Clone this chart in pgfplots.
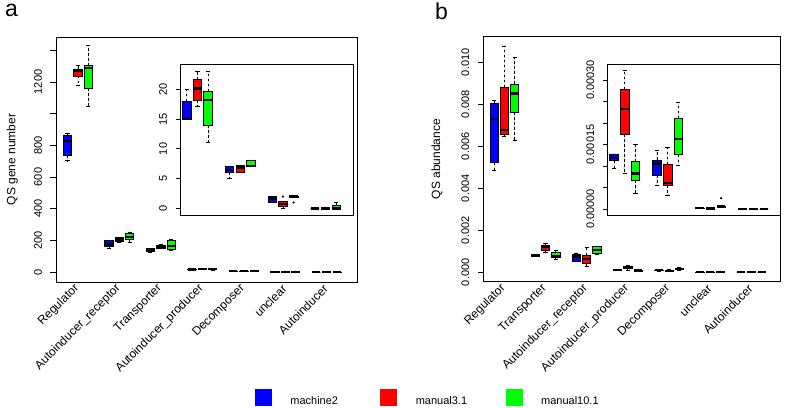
\documentclass[border=0pt]{standalone}
\usepackage{fontspec}
\setmainfont{Liberation Sans}
\usepackage{pgfplots}
\pgfplotsset{compat=1.18}
\usepgfplotslibrary{statistics}
\pgfplotsset{
  /pgfplots/boxplot/draw/lower whisker/.code={%
    \draw[black, line width=0.7bp, dash pattern=on 2.5bp off 2.5bp]
      (boxplot box cs:\pgfplotsboxplotvalue{lower quartile},0.5) --
      (boxplot box cs:\pgfplotsboxplotvalue{lower whisker},0.5);
    \draw[black, line width=0.7bp]
      (boxplot box cs:\pgfplotsboxplotvalue{lower whisker},0.25) --
      (boxplot box cs:\pgfplotsboxplotvalue{lower whisker},0.75);
  },
  /pgfplots/boxplot/draw/upper whisker/.code={%
    \draw[black, line width=0.7bp, dash pattern=on 2.5bp off 2.5bp]
      (boxplot box cs:\pgfplotsboxplotvalue{upper quartile},0.5) --
      (boxplot box cs:\pgfplotsboxplotvalue{upper whisker},0.5);
    \draw[black, line width=0.7bp]
      (boxplot box cs:\pgfplotsboxplotvalue{upper whisker},0.25) --
      (boxplot box cs:\pgfplotsboxplotvalue{upper whisker},0.75);
  },
  rbase/.style={
    scale only axis,
    anchor=south west,
    axis line style={black, line width=0.8bp},
    tick align=outside,
    ytick pos=left,
    xtick pos=bottom,
    ytick style={black, line width=0.8bp},
    xtick style={draw=none},
    major tick length=5.5bp,
    scaled y ticks=false,
    clip=false,
    yticklabel style={rotate=90, anchor=south, inner sep=0pt, outer sep=8.5bp, font=\fontsize{11bp}{13bp}\selectfont},
    xticklabel style={rotate=45, anchor=east, inner sep=1bp, font=\fontsize{12bp}{14bp}\selectfont},
    xticklabel shift=-1.5bp,
    boxplot/draw direction=y,
    boxplot/box extend=0.8,
    boxplot/every median/.style={black, line width=2.4bp},
    boxplot/every box/.style={draw=black, line width=0.7bp},
  },
  bB/.style={draw=black, fill=blue, line width=0.7bp, forget plot, mark=*, mark size=0.7bp, mark options={black, fill=black}},
  bR/.style={draw=black, fill=red, line width=0.7bp, forget plot, mark=*, mark size=0.7bp, mark options={black, fill=black}},
  bG/.style={draw=black, fill=green, line width=0.7bp, forget plot, mark=*, mark size=0.7bp, mark options={black, fill=black}},
}
\begin{document}
\begin{tikzpicture}
\path[use as bounding box] (0bp,0bp) rectangle (787bp,408bp);
\node[anchor=base west, font=\fontsize{23bp}{26bp}\selectfont, inner sep=0pt] at (5bp,391bp) {a};
\node[anchor=base west, font=\fontsize{23bp}{26bp}\selectfont, inner sep=0pt] at (435bp,388bp) {b};

% ---------------- panel a, main ----------------
\begin{axis}[rbase, at={(56bp,126bp)}, width=301bp, height=245bp,
  xmin=-0.11, xmax=28.93, ymin=-63, ymax=1484,
  xtick={2,6,10,14,18,22,26},
  xticklabels={Regulator,Autoinducer\_receptor,Transporter,Autoinducer\_producer,Decomposer,unclear,Autoinducer},
  ytick={0,200,400,600,800,1000,1200,1400},
  yticklabels={0,200,400,600,800,,1200,},
  ylabel={QS gene number},
  every axis y label/.style={at={(axis description cs:-0.145,0.5)}, rotate=90, anchor=center, font=\fontsize{12bp}{14bp}\selectfont},
  legend style={at={(axis description cs:0.661,-0.4714)}, anchor=west, draw=none, fill=none,
    inner sep=0pt, outer sep=0pt, legend columns=3, column sep=0pt,
    font=\fontsize{11bp}{13bp}\selectfont, nodes={inner sep=0pt}},
  legend cell align=left,
]
\addlegendimage{legend image code/.code={\fill[blue] (0bp,-4bp) rectangle (16bp,12bp);}}
\addlegendentry{\hspace*{19bp}\makebox[90bp][l]{machine2}}
\addlegendimage{legend image code/.code={\fill[red] (0bp,-4bp) rectangle (16bp,12bp);}}
\addlegendentry{\hspace*{19bp}\makebox[90bp][l]{manual3.1}}
\addlegendimage{legend image code/.code={\fill[green] (0bp,-4bp) rectangle (16bp,12bp);}}
\addlegendentry{\hspace*{19bp}\makebox[90bp][l]{manual10.1}}
% Regulator
\addplot[bB, boxplot prepared={draw position=1, lower whisker=703, lower quartile=735, median=827, upper quartile=865, upper whisker=876}] coordinates {};
\addplot[bR, boxplot prepared={draw position=2, lower whisker=1177, lower quartile=1238, median=1269, upper quartile=1282, upper whisker=1303}] coordinates {};
\addplot[bG, boxplot prepared={draw position=3, lower whisker=1044, lower quartile=1160, median=1287, upper quartile=1303, upper whisker=1429}] coordinates {};
% Autoinducer_receptor
\addplot[bB, boxplot prepared={draw position=5, lower whisker=150, lower quartile=160, median=175, upper quartile=198, upper whisker=200}] coordinates {};
\addplot[bR, boxplot prepared={draw position=6, lower whisker=188, lower quartile=192, median=205, upper quartile=217, upper whisker=220}] coordinates {};
\addplot[bG, boxplot prepared={draw position=7, lower whisker=185, lower quartile=207, median=223, upper quartile=244, upper whisker=250}] coordinates {};
% Transporter
\addplot[bB, boxplot prepared={draw position=9, lower whisker=125, lower quartile=128, median=139, upper quartile=150, upper whisker=150}] coordinates {};
\addplot[bR, boxplot prepared={draw position=10, lower whisker=148, lower quartile=150, median=160, upper quartile=171, upper whisker=172}] coordinates {};
\addplot[bG, boxplot prepared={draw position=11, lower whisker=135, lower quartile=143, median=164, upper quartile=198, upper whisker=205}] coordinates {};
% Autoinducer_producer
\addplot[bB, boxplot prepared={draw position=13, lower whisker=15, lower quartile=15, median=15, upper quartile=18, upper whisker=20}] coordinates {};
\addplot[bR, boxplot prepared={draw position=14, lower whisker=17.2, lower quartile=18.2, median=20.1, upper quartile=21.6, upper whisker=23}] coordinates {};
\addplot[bG, boxplot prepared={draw position=15, lower whisker=11.1, lower quartile=14, median=18.2, upper quartile=19.7, upper whisker=23}] coordinates {};
% Decomposer
\addplot[bB, boxplot prepared={draw position=17, lower whisker=5.1, lower quartile=6.05, median=6.5, upper quartile=7.05, upper whisker=7.05}] coordinates {};
\addplot[bR, boxplot prepared={draw position=18, lower whisker=6, lower quartile=6.05, median=6.9, upper quartile=7.2, upper whisker=7.2}] coordinates {};
\addplot[bG, boxplot prepared={draw position=19, lower whisker=7, lower quartile=7, median=7.1, upper quartile=8.05, upper whisker=8.05}] coordinates {};
% unclear
\addplot[bB, boxplot prepared={draw position=21, lower whisker=1, lower quartile=1, median=1.7, upper quartile=2, upper whisker=2}] coordinates {};
\addplot[bR, boxplot prepared={draw position=22, lower whisker=0, lower quartile=0.4, median=0.8, upper quartile=1.2, upper whisker=1.2}] table[row sep=\\, y index=0] {data\\ 2\\};
\addplot[bG, boxplot prepared={draw position=23, lower whisker=1.9, lower quartile=1.9, median=2, upper quartile=2.1, upper whisker=2.1}] table[row sep=\\, y index=0] {data\\ 1\\};
% Autoinducer
\addplot[bB, boxplot prepared={draw position=25, lower whisker=0, lower quartile=0, median=0, upper quartile=0, upper whisker=0}] coordinates {};
\addplot[bR, boxplot prepared={draw position=26, lower whisker=0, lower quartile=0, median=0, upper quartile=0, upper whisker=0}] coordinates {};
\addplot[bG, boxplot prepared={draw position=27, lower whisker=0, lower quartile=0, median=0, upper quartile=0.5, upper whisker=1}] coordinates {};
\end{axis}

% ---------------- panel a, inset ----------------
\begin{axis}[rbase, at={(180bp,193bp)}, width=173bp, height=151bp,
  xmin=0.37, xmax=16.56, ymin=-1.09, ymax=24.24,
  xtick=\empty, major tick length=4.5bp,
  ytick={0,5,10,15,20}, yticklabels={0,5,10,15,20},
]
\addplot[bB, boxplot prepared={draw position=1, lower whisker=15, lower quartile=15, median=15, upper quartile=18, upper whisker=20}] coordinates {};
\addplot[bR, boxplot prepared={draw position=2, lower whisker=17.2, lower quartile=18.2, median=20.1, upper quartile=21.6, upper whisker=23}] coordinates {};
\addplot[bG, boxplot prepared={draw position=3, lower whisker=11.1, lower quartile=14, median=18.2, upper quartile=19.7, upper whisker=23}] coordinates {};
\addplot[bB, boxplot prepared={draw position=5, lower whisker=5.1, lower quartile=6.05, median=6.5, upper quartile=7.05, upper whisker=7.05}] coordinates {};
\addplot[bR, boxplot prepared={draw position=6, lower whisker=6, lower quartile=6.05, median=6.9, upper quartile=7.2, upper whisker=7.2}] coordinates {};
\addplot[bG, boxplot prepared={draw position=7, lower whisker=7, lower quartile=7, median=7.1, upper quartile=8.05, upper whisker=8.05}] coordinates {};
\addplot[bB, boxplot prepared={draw position=9, lower whisker=1, lower quartile=1, median=1.7, upper quartile=2, upper whisker=2}] coordinates {};
\addplot[bR, boxplot prepared={draw position=10, lower whisker=0, lower quartile=0.4, median=0.8, upper quartile=1.2, upper whisker=1.2}] table[row sep=\\, y index=0] {data\\ 2\\};
\addplot[bG, boxplot prepared={draw position=11, lower whisker=1.9, lower quartile=1.9, median=2, upper quartile=2.1, upper whisker=2.1}] table[row sep=\\, y index=0] {data\\ 1\\};
\addplot[bB, boxplot prepared={draw position=13, lower whisker=0, lower quartile=0, median=0, upper quartile=0, upper whisker=0}] coordinates {};
\addplot[bR, boxplot prepared={draw position=14, lower whisker=0, lower quartile=0, median=0, upper quartile=0, upper whisker=0}] coordinates {};
\addplot[bG, boxplot prepared={draw position=15, lower whisker=0, lower quartile=0, median=0, upper quartile=0.5, upper whisker=1}] coordinates {};
\end{axis}

% ---------------- panel b, main (values in units of 0.001 abundance) ----------------
\begin{axis}[rbase, at={(483.3bp,126.3bp)}, width=296.7bp, height=245bp,
  xmin=-0.04, xmax=28.78, ymin=-0.448, ymax=11.219,
  xtick={2,6,10,14,18,22,26},
  xticklabels={Regulator,Transporter,Autoinducer\_receptor,Autoinducer\_producer,Decomposer,unclear,Autoinducer},
  ytick={0,2,4,6,8,10},
  yticklabels={0.000,0.002,0.004,0.006,0.008,0.010},
  ylabel={QS abundance},
  every axis y label/.style={at={(axis description cs:-0.156,0.5)}, rotate=90, anchor=center, font=\fontsize{12bp}{14bp}\selectfont},
]
\addplot[bB, boxplot prepared={draw position=1, lower whisker=4.87, lower quartile=5.22, median=7.3, upper quartile=8.05, upper whisker=8.17}] coordinates {};
\addplot[bR, boxplot prepared={draw position=2, lower whisker=6.46, lower quartile=6.59, median=6.78, upper quartile=8.81, upper whisker=10.78}] coordinates {};
\addplot[bG, boxplot prepared={draw position=3, lower whisker=6.3, lower quartile=7.62, median=8.52, upper quartile=8.97, upper whisker=10.24}] coordinates {};
\addplot[bB, boxplot prepared={draw position=5, lower whisker=0.74, lower quartile=0.76, median=0.8, upper quartile=0.84, upper whisker=0.87}] coordinates {};
\addplot[bR, boxplot prepared={draw position=6, lower whisker=0.97, lower quartile=1.03, median=1.22, upper quartile=1.3, upper whisker=1.38}] coordinates {};
\addplot[bG, boxplot prepared={draw position=7, lower whisker=0.62, lower quartile=0.71, median=0.79, upper quartile=0.93, upper whisker=1.05}] coordinates {};
\addplot[bB, boxplot prepared={draw position=9, lower whisker=0.5, lower quartile=0.5, median=0.75, upper quartile=0.87, upper whisker=0.92}] coordinates {};
\addplot[bR, boxplot prepared={draw position=10, lower whisker=0.27, lower quartile=0.43, median=0.62, upper quartile=0.82, upper whisker=1.2}] coordinates {};
\addplot[bG, boxplot prepared={draw position=11, lower whisker=0.85, lower quartile=0.88, median=1.06, upper quartile=1.22, upper whisker=1.25}] coordinates {};
\addplot[bB, boxplot prepared={draw position=13, lower whisker=0.0946, lower quartile=0.112, median=0.118, upper quartile=0.128, upper whisker=0.128}] coordinates {};
\addplot[bR, boxplot prepared={draw position=14, lower whisker=0.083, lower quartile=0.174, median=0.232, upper quartile=0.279, upper whisker=0.322}] coordinates {};
\addplot[bG, boxplot prepared={draw position=15, lower whisker=0.0365, lower quartile=0.0674, median=0.083, upper quartile=0.11, upper whisker=0.15}] coordinates {};
\addplot[bB, boxplot prepared={draw position=17, lower whisker=0.054, lower quartile=0.079, median=0.106, upper quartile=0.114, upper whisker=0.137}] coordinates {};
\addplot[bR, boxplot prepared={draw position=18, lower whisker=0.0326, lower quartile=0.0558, median=0.0598, upper quartile=0.104, upper whisker=0.143}] coordinates {};
\addplot[bG, boxplot prepared={draw position=19, lower whisker=0.102, lower quartile=0.126, median=0.163, upper quartile=0.211, upper whisker=0.248}] coordinates {};
\addplot[bB, boxplot prepared={draw position=21, lower whisker=0.001, lower quartile=0.0015, median=0.002, upper quartile=0.0025, upper whisker=0.003}] coordinates {};
\addplot[bR, boxplot prepared={draw position=22, lower whisker=0.0005, lower quartile=0.001, median=0.0012, upper quartile=0.0015, upper whisker=0.002}] coordinates {};
\addplot[bG, boxplot prepared={draw position=23, lower whisker=0.004, lower quartile=0.0048, median=0.0055, upper quartile=0.0065, upper whisker=0.008}] table[row sep=\\, y index=0] {data\\ 0.025\\};
\addplot[bB, boxplot prepared={draw position=25, lower whisker=0, lower quartile=0, median=0, upper quartile=0, upper whisker=0}] coordinates {};
\addplot[bR, boxplot prepared={draw position=26, lower whisker=0, lower quartile=0, median=0, upper quartile=0, upper whisker=0}] coordinates {};
\addplot[bG, boxplot prepared={draw position=27, lower whisker=0, lower quartile=0, median=0, upper quartile=0, upper whisker=0}] coordinates {};
\end{axis}

% ---------------- panel b, inset (values in units of 0.001 abundance) ----------------
\begin{axis}[rbase, at={(607.3bp,193bp)}, width=173.4bp, height=150.7bp,
  xmin=0.37, xmax=16.56, ymin=-0.01395, ymax=0.3365,
  xtick=\empty, major tick length=4.5bp,
  ytick={0,0.05,0.1,0.15,0.2,0.25,0.3},
  yticklabels={0.00000,,,0.00015,,,0.00030},
]
\addplot[bB, boxplot prepared={draw position=1, lower whisker=0.0946, lower quartile=0.112, median=0.118, upper quartile=0.128, upper whisker=0.128}] coordinates {};
\addplot[bR, boxplot prepared={draw position=2, lower whisker=0.083, lower quartile=0.174, median=0.232, upper quartile=0.279, upper whisker=0.322}] coordinates {};
\addplot[bG, boxplot prepared={draw position=3, lower whisker=0.0365, lower quartile=0.0674, median=0.083, upper quartile=0.11, upper whisker=0.15}] coordinates {};
\addplot[bB, boxplot prepared={draw position=5, lower whisker=0.054, lower quartile=0.079, median=0.106, upper quartile=0.114, upper whisker=0.137}] coordinates {};
\addplot[bR, boxplot prepared={draw position=6, lower whisker=0.0326, lower quartile=0.0558, median=0.0598, upper quartile=0.104, upper whisker=0.143}] coordinates {};
\addplot[bG, boxplot prepared={draw position=7, lower whisker=0.102, lower quartile=0.126, median=0.163, upper quartile=0.211, upper whisker=0.248}] coordinates {};
\addplot[bB, boxplot prepared={draw position=9, lower whisker=0.001, lower quartile=0.0015, median=0.002, upper quartile=0.0025, upper whisker=0.003}] coordinates {};
\addplot[bR, boxplot prepared={draw position=10, lower whisker=0.0005, lower quartile=0.001, median=0.0012, upper quartile=0.0015, upper whisker=0.002}] coordinates {};
\addplot[bG, boxplot prepared={draw position=11, lower whisker=0.004, lower quartile=0.0048, median=0.0055, upper quartile=0.0065, upper whisker=0.008}] table[row sep=\\, y index=0] {data\\ 0.025\\};
\addplot[bB, boxplot prepared={draw position=13, lower whisker=0, lower quartile=0, median=0, upper quartile=0, upper whisker=0}] coordinates {};
\addplot[bR, boxplot prepared={draw position=14, lower whisker=0, lower quartile=0, median=0, upper quartile=0, upper whisker=0}] coordinates {};
\addplot[bG, boxplot prepared={draw position=15, lower whisker=0, lower quartile=0, median=0, upper quartile=0, upper whisker=0}] coordinates {};
\end{axis}
\end{tikzpicture}
\end{document}
